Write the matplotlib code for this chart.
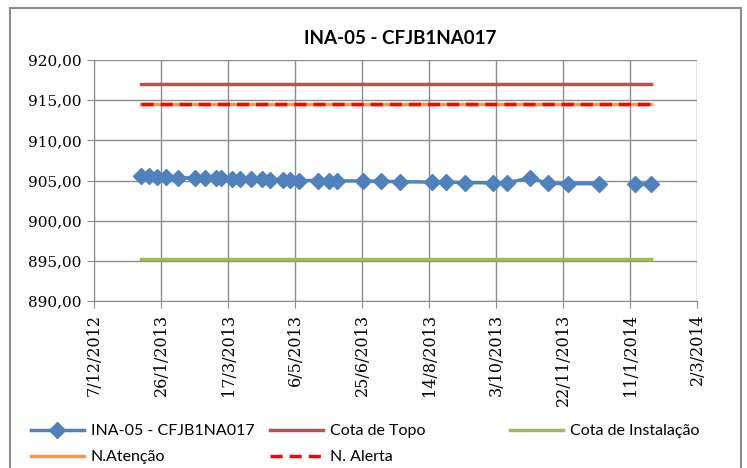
import numpy as np
import matplotlib
matplotlib.use("Agg")
import matplotlib.pyplot as plt
from matplotlib.patches import Rectangle
from matplotlib.ticker import FuncFormatter, MultipleLocator
from datetime import datetime, timedelta

plt.rcParams["font.family"] = "serif"
plt.rcParams["font.serif"] = ["DejaVu Serif"]

# leituras do piezometro (dd/mm/yyyy), None = leitura em falta
dates = ["11/01/2013", "17/01/2013", "23/01/2013", "30/01/2013", "08/02/2013",
         "20/02/2013", "28/02/2013", "08/03/2013", "12/03/2013", "20/03/2013",
         "26/03/2013", "03/04/2013", "11/04/2013", "17/04/2013", "27/04/2013",
         "02/05/2013", "09/05/2013", "23/05/2013", "31/05/2013", "06/06/2013",
         "26/06/2013", "09/07/2013", "23/07/2013", "16/08/2013", "27/08/2013",
         "10/09/2013", "01/10/2013", "11/10/2013", "28/10/2013", "11/11/2013",
         "26/11/2013", "19/12/2013", "02/01/2014", "15/01/2014", "27/01/2014"]
levels = [905.55, 905.50, 905.45, 905.40, 905.35,
          905.30, 905.30, 905.25, 905.25, 905.20,
          905.20, 905.15, 905.15, 905.10, 905.10,
          905.05, 905.00, 905.00, 904.95, 904.95,
          904.95, 904.90, 904.85, 904.80, 904.80,
          904.75, 904.70, 904.70, 905.30, 904.65,
          904.60, 904.60, None, 904.55, 904.55]

cota_topo = 917.0
cota_instalacao = 895.2
n_atencao = 914.5
n_alerta = 914.5

x = [datetime.strptime(d, "%d/%m/%Y") for d in dates]
y = np.array([np.nan if v is None else v for v in levels])

fig = plt.figure(figsize=(7.47, 4.68), dpi=100)
ax = fig.add_axes([94/747, 1-301/468, (697-94)/747, (301-60)/468])

# moldura do grafico
fig.patches.append(Rectangle((10/747, -0.1), 731/747, 1.1-8/468, transform=fig.transFigure,
                             fill=False, edgecolor="#8c8c8c", lw=1.5))

h1, = ax.plot(x, y, color="#4F81BD", lw=2.5, marker="D", ms=8, label="INA-05 - CFJB1NA017", zorder=5)
ends = [x[0], x[-1]]
h2, = ax.plot(ends, [cota_topo]*2, color="#C0504D", lw=2.5, label="Cota de Topo")
h3, = ax.plot(ends, [cota_instalacao]*2, color="#9BBB59", lw=2.5, label="Cota de Instalação")
h4, = ax.plot(ends, [n_atencao]*2, color="#F79646", lw=2.5, label="N.Atenção")
h5, = ax.plot(ends, [n_alerta]*2, color="#FF0000", lw=2.5, ls=(0, (3.5, 2)), label="N. Alerta")

ax.set_ylim(890, 920)
ax.yaxis.set_major_locator(MultipleLocator(5))
ax.yaxis.set_major_formatter(FuncFormatter(lambda v, p: ("%.2f" % v).replace(".", ",")))

start = datetime(2012, 12, 7)
ticks = [start + timedelta(days=50*i) for i in range(10)]
ax.set_xlim(ticks[0], ticks[-1])
ax.set_xticks(ticks)
ax.set_xticklabels(["%d/%d/%d" % (t.day, t.month, t.year) for t in ticks], rotation=90)
ax.tick_params(axis="x", labelsize=11.5)
ax.tick_params(axis="y", labelsize=11)

ax.grid(True, color="#8c8c8c", lw=1)
ax.set_axisbelow(True)
for s in ["top", "right"]:
    ax.spines[s].set_visible(False)
for s in ["left", "bottom"]:
    ax.spines[s].set_color("#8c8c8c")
ax.tick_params(axis="both", color="#8c8c8c", length=5, direction="out", pad=4)

fig.text(400/747, 1-38/468, "INA-05 - CFJB1NA017", ha="center", va="center",
         fontsize=13.5, fontweight="bold", family="Lato")

# legenda em tres colunas de largura igual, como no Excel
cols = [([h1, h4], 31), ([h2, h5], 270), ([h3], 510)]
for hs, px in cols:
    leg = fig.legend(hs, [h.get_label() for h in hs], loc="upper left",
                     bbox_to_anchor=(px/747, 1-424/468), frameon=False, borderpad=0,
                     borderaxespad=0, prop={"family": "Lato", "size": 11.5},
                     handlelength=3.3, handletextpad=0.45, labelspacing=0.75)

fig.savefig("out.png", dpi=100)
